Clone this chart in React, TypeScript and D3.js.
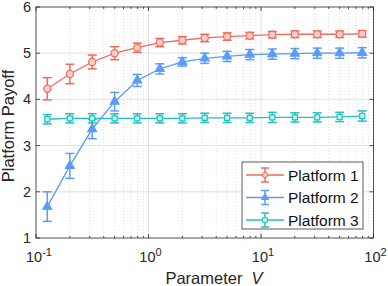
import React, { useEffect, useRef } from 'react';
import * as d3 from 'd3';

// parameter V (log spaced)
const xValues = [0.126, 0.2, 0.316, 0.5, 0.794, 1.26, 2, 3.16, 5, 7.94, 12.6, 20, 31.6, 50, 79.4];

const platform1 = [4.23, 4.55, 4.81, 5.0, 5.12, 5.23, 5.28, 5.33, 5.36, 5.38, 5.4, 5.41, 5.41, 5.41, 5.42];
const platform1Err = [0.24, 0.21, 0.15, 0.14, 0.1, 0.09, 0.08, 0.08, 0.08, 0.07, 0.07, 0.07, 0.07, 0.07, 0.07];

const platform2 = [1.68, 2.56, 3.36, 3.95, 4.41, 4.66, 4.81, 4.89, 4.93, 4.97, 4.98, 4.99, 5.0, 5.0, 5.01];
const platform2Err = [0.32, 0.27, 0.21, 0.2, 0.13, 0.11, 0.09, 0.11, 0.11, 0.11, 0.11, 0.11, 0.11, 0.11, 0.11];

const platform3 = [3.57, 3.59, 3.59, 3.59, 3.59, 3.59, 3.59, 3.6, 3.6, 3.6, 3.61, 3.61, 3.61, 3.62, 3.64];
const platform3Err = [0.1, 0.1, 0.1, 0.1, 0.1, 0.1, 0.1, 0.1, 0.1, 0.1, 0.11, 0.1, 0.1, 0.1, 0.11];

const seriesNames = ['Platform 1', 'Platform 2', 'Platform 3'];
const yTicks = [1, 2, 3, 4, 5, 6];
const xTicks = [0.1, 1, 10, 100];
const xTickExp = ['-1', '0', '1', '2'];

const W = 388;
const H = 286;

export default function App() {
  const svgRef = useRef<SVGSVGElement>(null);

  useEffect(() => {
    const svg = d3.select(svgRef.current);
    svg.selectAll('*').remove();

    const left = 36, top = 7, right = 373.5, bottom = 238;
    const font = '"Liberation Sans", Arial, sans-serif';

    const x = d3.scaleLog().domain([0.1, 100]).range([left, right]);
    const y = d3.scaleLinear().domain([1, 6]).range([bottom, top]);

    svg.append('rect').attr('x', left).attr('y', top)
      .attr('width', right - left).attr('height', bottom - top).attr('fill', '#fff');

    // minor grid (dotted)
    const minor: number[] = [];
    [0.1, 1, 10].forEach(d => { for (let k = 2; k <= 9; k++) minor.push(d * k); });
    svg.append('g').selectAll('line').data(minor).enter().append('line')
      .attr('x1', d => x(d)).attr('x2', d => x(d)).attr('y1', top).attr('y2', bottom)
      .attr('stroke', '#d4d4d4').attr('stroke-width', 0.8).attr('stroke-dasharray', '1,2');

    // major grid
    svg.append('g').selectAll('line').data(xTicks.slice(1, 3)).enter().append('line')
      .attr('x1', d => x(d)).attr('x2', d => x(d)).attr('y1', top).attr('y2', bottom)
      .attr('stroke', '#e2e2e2').attr('stroke-width', 1);
    svg.append('g').selectAll('line').data(yTicks.slice(1, 5)).enter().append('line')
      .attr('x1', left).attr('x2', right).attr('y1', d => y(d)).attr('y2', d => y(d))
      .attr('stroke', '#e2e2e2').attr('stroke-width', 1);

    // box + ticks
    const axisColor = '#262626';
    svg.append('rect').attr('x', left).attr('y', top)
      .attr('width', right - left).attr('height', bottom - top)
      .attr('fill', 'none').attr('stroke', axisColor).attr('stroke-width', 0.8);

    const tk = svg.append('g').attr('stroke', axisColor).attr('stroke-width', 0.8);
    yTicks.forEach(v => {
      tk.append('line').attr('x1', left).attr('x2', left + 4).attr('y1', y(v)).attr('y2', y(v));
      tk.append('line').attr('x1', right).attr('x2', right - 4).attr('y1', y(v)).attr('y2', y(v));
    });
    xTicks.forEach(v => {
      tk.append('line').attr('x1', x(v)).attr('x2', x(v)).attr('y1', bottom).attr('y2', bottom - 4);
      tk.append('line').attr('x1', x(v)).attr('x2', x(v)).attr('y1', top).attr('y2', top + 4);
    });
    minor.forEach(v => {
      tk.append('line').attr('x1', x(v)).attr('x2', x(v)).attr('y1', bottom).attr('y2', bottom - 2);
      tk.append('line').attr('x1', x(v)).attr('x2', x(v)).attr('y1', top).attr('y2', top + 2);
    });

    // tick labels
    svg.append('g').selectAll('text').data(yTicks).enter().append('text')
      .attr('x', left - 5).attr('y', d => y(d) + 5)
      .attr('text-anchor', 'end').attr('font-family', font).attr('font-size', 14.5)
      .attr('fill', axisColor).text(d => d);

    xTicks.forEach((v, i) => {
      const t = svg.append('text').attr('x', x(v) + (i === 0 ? 3 : 2)).attr('y', 262)
        .attr('text-anchor', 'middle').attr('font-family', font).attr('font-size', 14.5)
        .attr('fill', axisColor);
      t.append('tspan').text('10');
      t.append('tspan').attr('dy', -6).attr('font-size', 11).text(xTickExp[i]);
    });

    // axis labels
    svg.append('text')
      .attr('transform', `translate(${14},${126}) rotate(-90)`)
      .attr('text-anchor', 'middle').attr('font-family', font).attr('font-size', 16.5)
      .attr('fill', axisColor).text('Platform Payoff');

    const xl = svg.append('text').attr('x', 214).attr('y', 284)
      .attr('text-anchor', 'middle').attr('font-family', font).attr('font-size', 16.5)
      .attr('fill', axisColor).attr('xml:space', 'preserve');
    xl.append('tspan').text('Parameter\u00a0\u00a0');
    xl.append('tspan').attr('font-style', 'italic').text('V');

    // series
    const series = [
      { name: seriesNames[0], vals: platform1, err: platform1Err, color: '#f4685b', fill: '#fbd0cb', marker: 'circle' },
      { name: seriesNames[1], vals: platform2, err: platform2Err, color: '#5a9cf8', fill: '#5a9cf8', marker: 'triangle' },
      { name: seriesNames[2], vals: platform3, err: platform3Err, color: '#1fc1c1', fill: '#c8f0f0', marker: 'square' },
    ];

    const symbolFor = (m: string) =>
      m === 'circle' ? d3.symbol(d3.symbolCircle, 40)
        : m === 'triangle' ? d3.symbol(d3.symbolTriangle, 34)
          : d3.symbol(d3.symbolSquare, 26);

    const line = d3.line<number>().x((d, i) => x(xValues[i])).y(d => y(d));

    series.forEach(s => {
      const g = svg.append('g');
      g.append('path').attr('d', line(s.vals)).attr('fill', 'none')
        .attr('stroke', s.color).attr('stroke-width', 1.3);
      s.vals.forEach((v, i) => {
        const cx = x(xValues[i]);
        const e = s.err[i];
        g.append('line').attr('x1', cx).attr('x2', cx).attr('y1', y(v - e)).attr('y2', y(v + e))
          .attr('stroke', s.color).attr('stroke-width', 1.5);
        [v - e, v + e].forEach(c => {
          g.append('line').attr('x1', cx - 4.5).attr('x2', cx + 4.5).attr('y1', y(c)).attr('y2', y(c))
            .attr('stroke', s.color).attr('stroke-width', 1.5);
        });
        g.append('path').attr('d', symbolFor(s.marker)())
          .attr('transform', `translate(${cx},${y(v)})`)
          .attr('fill', s.fill).attr('stroke', s.color).attr('stroke-width', 1.2);
      });
    });

    // legend
    const lx = 242, ly = 162, lw = 121, lh = 67;
    svg.append('rect').attr('x', lx).attr('y', ly).attr('width', lw).attr('height', lh)
      .attr('fill', '#fff').attr('stroke', '#333').attr('stroke-width', 0.8);
    series.forEach((s, i) => {
      const cy = 175 + i * 22.5;
      const g = svg.append('g');
      g.append('line').attr('x1', lx + 4).attr('x2', lx + 42).attr('y1', cy).attr('y2', cy)
        .attr('stroke', s.color).attr('stroke-width', 1.3);
      const cx = lx + 23;
      g.append('line').attr('x1', cx).attr('x2', cx).attr('y1', cy - 7).attr('y2', cy + 7)
        .attr('stroke', s.color).attr('stroke-width', 1.5);
      [cy - 7, cy + 7].forEach(c => {
        g.append('line').attr('x1', cx - 4).attr('x2', cx + 4).attr('y1', c).attr('y2', c)
          .attr('stroke', s.color).attr('stroke-width', 1.5);
      });
      g.append('path').attr('d', symbolFor(s.marker).size(22)())
        .attr('transform', `translate(${cx},${cy})`)
        .attr('fill', s.fill).attr('stroke', s.color).attr('stroke-width', 1);
      g.append('text').attr('x', lx + 46).attr('y', cy + 5.5)
        .attr('font-family', font).attr('font-size', 15.5).attr('fill', '#111').text(s.name);
    });
  }, []);

  return (
    <svg ref={svgRef} width={W} height={H}
      style={{ position: 'absolute', left: 0, top: 0, background: '#fff' }} />
  );
}
